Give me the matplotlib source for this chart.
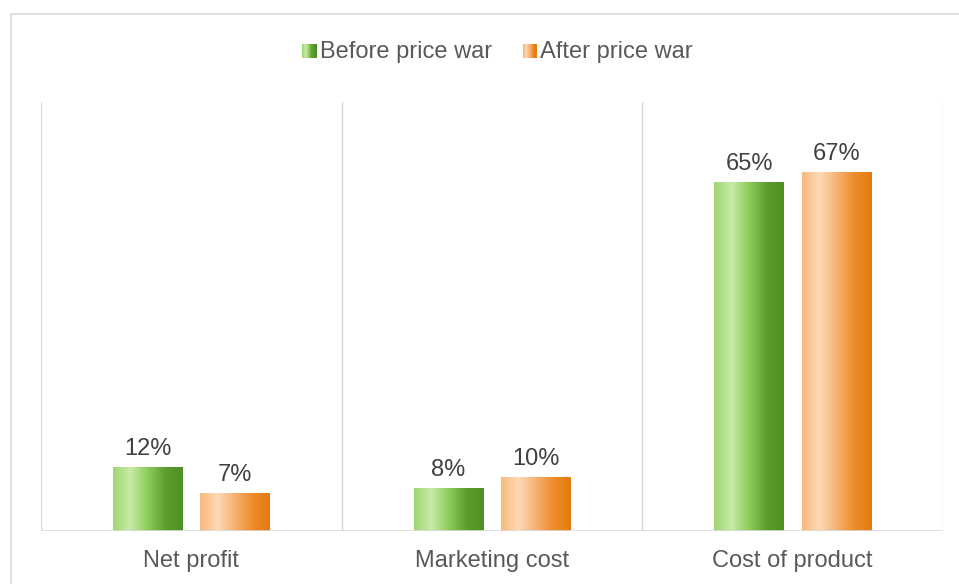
import matplotlib
matplotlib.use("Agg")
import matplotlib.pyplot as plt
import numpy as np
from matplotlib.colors import LinearSegmentedColormap
from matplotlib.legend_handler import HandlerBase
from matplotlib.patches import Rectangle

plt.rcParams['font.family'] = ['Liberation Sans', 'DejaVu Sans']

categories = ['Net profit', 'Marketing cost', 'Cost of product']
before = [12, 8, 65]
after = [7, 10, 67]
series_names = ['Before price war', 'After price war']

green_stops = ['#9fd770', '#c8eaa8', '#8dcc5c', '#5c9e2e', '#4f8f25']
orange_stops = ['#f8b97c', '#fdd9b6', '#f6b272', '#ee8c2a', '#e57a0e']
cmaps = [LinearSegmentedColormap.from_list('g', green_stops),
         LinearSegmentedColormap.from_list('o', orange_stops)]

fig = plt.figure(figsize=(9.59, 5.84), dpi=100)
ax = fig.add_axes([41 / 959, 53 / 584, 902 / 959, 429 / 584])

# outer chart border
fig.patches.append(Rectangle((11 / 959, -0.1), 1.1, 1.1 - 14 / 584,
                             transform=fig.transFigure, fill=False,
                             edgecolor='#d9d9d9', lw=1.2))

x = np.arange(len(categories))
w = 0.23
off = 0.145
grad = np.linspace(0, 1, 256).reshape(1, -1)

for i, (vals, cm) in enumerate(zip([before, after], cmaps)):
    pos = x - off if i == 0 else x + off
    bars = ax.bar(pos, vals, w, color='none', edgecolor='none', zorder=3)
    for b, v in zip(bars, vals):
        x0 = b.get_x()
        im = ax.imshow(grad, cmap=cm, aspect='auto', zorder=3,
                       extent=[x0, x0 + w, 0, v])
        im.set_clip_path(b)
        ax.text(b.get_x() + w / 2, v + 1.3, '%d%%' % v, ha='center',
                va='bottom', fontsize=17, color='#404040')

ax.set_xlim(-0.5, len(categories) - 0.5)
ax.set_ylim(0, 80)
for xb in np.arange(-0.5, len(categories), 1.0):
    ax.axvline(xb, color='#d9d9d9', lw=1, zorder=1)
for s in ax.spines.values():
    s.set_visible(False)
ax.axhline(0, color='#d9d9d9', lw=1.2, zorder=4)
ax.set_yticks([])
ax.set_xticks(x)
ax.set_xticklabels(categories, fontsize=17, color='#595959')
ax.tick_params(axis='x', length=0, pad=14)


class GradHandler(HandlerBase):
    def __init__(self, cm):
        super().__init__()
        self.cm = cm

    def create_artists(self, legend, orig_handle, xdescent, ydescent,
                       width, height, fontsize, trans):
        n = 12
        size = height * 0.85
        x0 = width - size
        arts = []
        for k in range(n):
            r = Rectangle((x0 + k * size / n, 0), size / n + 0.3, size,
                          facecolor=self.cm(k / (n - 1)), edgecolor='none',
                          transform=trans)
            arts.append(r)
        return arts


h1 = Rectangle((0, 0), 1, 1)
h2 = Rectangle((0, 0), 1, 1)
fig.legend([h1, h2], series_names, loc='center', bbox_to_anchor=(495 / 959, 1 - 52 / 584),
           ncol=2, frameon=False, fontsize=17, labelcolor='#595959',
           handler_map={h1: GradHandler(cmaps[0]), h2: GradHandler(cmaps[1])},
           handlelength=0.8, handletextpad=0.15, columnspacing=1.1)

fig.savefig('out.png', dpi=100)
